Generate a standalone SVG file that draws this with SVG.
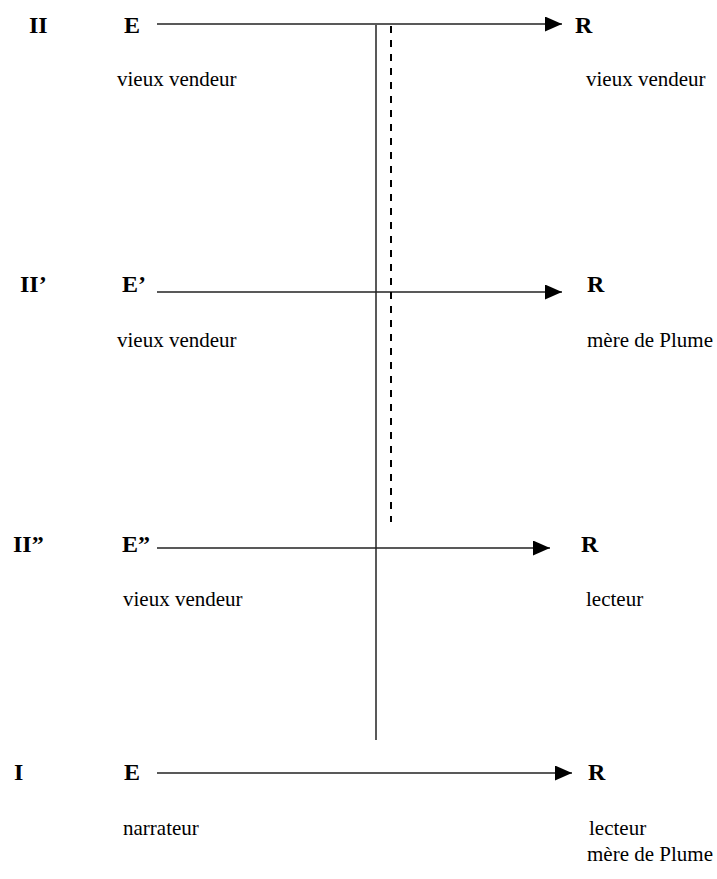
<svg xmlns="http://www.w3.org/2000/svg" width="717" height="879" viewBox="0 0 717 879">
<style>
.b{font-family:"Liberation Serif","Times New Roman",serif;font-weight:bold;font-size:24px;fill:#000}
.t{font-family:"Liberation Serif","Times New Roman",serif;font-size:21px;fill:#000}
.ln{stroke:#222;stroke-width:1.5;fill:none}
.ds{stroke:#000;stroke-width:2;stroke-dasharray:7 7;fill:none}
</style>
<defs>
<marker id="ah" markerWidth="17" markerHeight="15" refX="17" refY="7.5" orient="auto" markerUnits="userSpaceOnUse">
<path d="M0,0 L17,7.5 L0,15 Z" fill="#000"/>
</marker>
</defs>
<rect width="717" height="879" fill="#fff"/>
<g id="connectors">
<line class="ln" x1="157" y1="24" x2="562" y2="24" marker-end="url(#ah)"/>
<line class="ln" x1="157" y1="292" x2="562" y2="292" marker-end="url(#ah)"/>
<line class="ln" x1="157" y1="548" x2="550" y2="548" marker-end="url(#ah)"/>
<line class="ln" x1="157" y1="773" x2="572" y2="773" marker-end="url(#ah)"/>
<line class="ln" x1="376" y1="25" x2="376" y2="740"/>
<line class="ds" x1="391" y1="26" x2="391" y2="522"/>
</g>
<g id="level-II">
<text class="b" x="29" y="33">II</text>
<text class="b" x="124" y="33">E</text>
<text class="t" x="117" y="86">vieux vendeur</text>
<text class="b" x="575" y="33">R</text>
<text class="t" x="586" y="86">vieux vendeur</text>
</g>
<g id="level-II-prime">
<text class="b" x="20" y="292">II’</text>
<text class="b" x="122" y="292">E’</text>
<text class="t" x="117" y="347">vieux vendeur</text>
<text class="b" x="587" y="292">R</text>
<text class="t" x="587" y="347">mère de Plume</text>
</g>
<g id="level-II-second">
<text class="b" x="13" y="552">II”</text>
<text class="b" x="122" y="552">E”</text>
<text class="t" x="123" y="606">vieux vendeur</text>
<text class="b" x="581" y="552">R</text>
<text class="t" x="586" y="606">lecteur</text>
</g>
<g id="level-I">
<text class="b" x="14" y="780">I</text>
<text class="b" x="124" y="780">E</text>
<text class="t" x="123" y="835">narrateur</text>
<text class="b" x="588" y="780">R</text>
<text class="t" x="589" y="835">lecteur</text>
<text class="t" x="587" y="861">mère de Plume</text>
</g>
</svg>
